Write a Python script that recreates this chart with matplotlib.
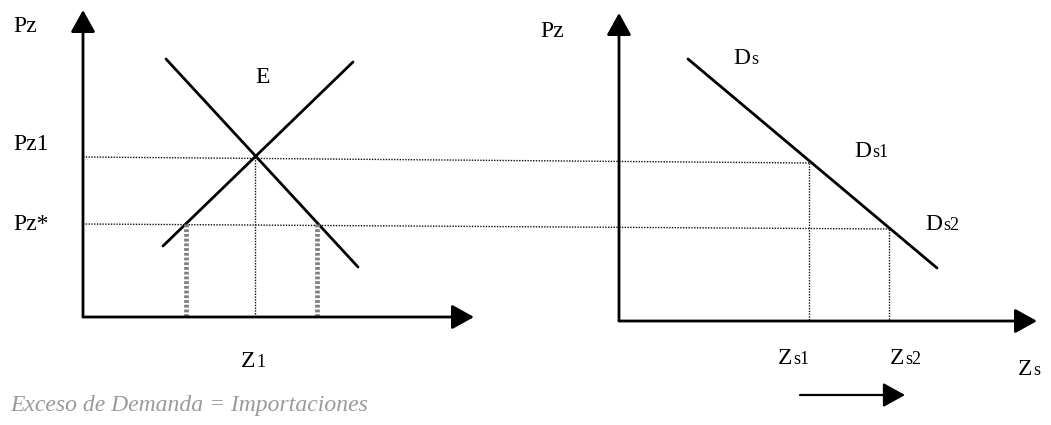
import matplotlib
matplotlib.use("Agg")
import matplotlib.pyplot as plt

# scanned textbook sketch: everything in picture pixel coordinates (y grows downward)
W, H = 1051, 425

# left panel: supply and demand of Z
left_origin = (83, 317)
left_y_tip = 10
left_x_tip = 474
supply_x = [163, 353]
supply_y = [246, 62]
demand_x = [166, 358]
demand_y = [59, 267]
eq_point = (255, 157)          # E
pz_star_left = [(186, 224), (317, 224)]

# right panel: excess demand Ds
right_origin = (619, 321)
right_y_tip = 13
right_x_tip = 1037
ds_x = [688, 937]
ds_y = [59, 268]
ds1_point = (809, 163)
ds2_point = (889, 229)

# price levels carried across both panels
pz1_line_x = [83, 809]
pz1_line_y = [157, 163]
pzstar_line_x = [83, 889]
pzstar_line_y = [224, 229]

# small arrow under Zs1 -> Zs2
shift_arrow_x = [800, 905]
shift_arrow_y = 395

SERIF = "Liberation Serif"

fig = plt.figure(figsize=(W / 100, H / 100), dpi=100)
ax = fig.add_axes([0, 0, 1, 1])
ax.set_xlim(0, W)
ax.set_ylim(H, 0)
ax.axis("off")


def arrow(x0, y0, x1, y1, lw=2.0, hl=1.35, hw=0.75):
    ax.annotate("", xy=(x1, y1), xytext=(x0, y0),
                arrowprops=dict(arrowstyle=f"-|>,head_length={hl},head_width={hw}",
                                mutation_scale=10, lw=lw, color="black",
                                shrinkA=0, shrinkB=0))


# axes with arrow heads
arrow(left_origin[0], left_origin[1], left_origin[0], left_y_tip)
arrow(left_origin[0], left_origin[1], left_x_tip, left_origin[1])
arrow(right_origin[0], right_origin[1], right_origin[0], right_y_tip)
arrow(right_origin[0], right_origin[1], right_x_tip, right_origin[1])
arrow(shift_arrow_x[0], shift_arrow_y, shift_arrow_x[1], shift_arrow_y, lw=1.6)

# curves
ax.plot(supply_x, supply_y, color="black", lw=2.0, solid_capstyle="round")
ax.plot(demand_x, demand_y, color="black", lw=2.0, solid_capstyle="round")
ax.plot(ds_x, ds_y, color="black", lw=2.0, solid_capstyle="round")

# dotted guide lines
dot = dict(color="#111111", lw=1.0, linestyle=(0, (1, 1)))
ax.plot(pz1_line_x, pz1_line_y, **dot)
ax.plot(pzstar_line_x, pzstar_line_y, **dot)
ax.plot([eq_point[0], eq_point[0]], [eq_point[1], left_origin[1]], **dot)
ax.plot([ds1_point[0], ds1_point[0]], [ds1_point[1], right_origin[1]], **dot)
ax.plot([ds2_point[0], ds2_point[0]], [ds2_point[1], right_origin[1]], **dot)

# thick grey dotted verticals marking the excess demand
for px, py in pz_star_left:
    ax.plot([px, px], [py, left_origin[1]], color="#808080", lw=3.4,
            linestyle=(0, (0.6, 0.4)))


def label(x, y, big, small="", fs=17, fs_small=13):
    ax.text(x, y, big, fontsize=fs, family=SERIF, ha="left", va="baseline")
    if small:
        t = ax.text(x, y, big, fontsize=fs, family=SERIF, alpha=0)
        fig.canvas.draw()
        bb = t.get_window_extent()
        x_end = ax.transData.inverted().transform((bb.x1, bb.y0))[0]
        ax.text(x_end + 1, y, small, fontsize=fs_small, family=SERIF,
                ha="left", va="baseline")


label(13, 32, "Pz")
label(13, 150, "Pz1")
label(13, 230, "Pz*")
label(255, 83, "E")
label(241, 367, "Z", "1")

label(540, 37, "Pz")
label(733, 64, "D", "s")
label(854, 157, "D", "s1")
label(925, 230, "D", "s2")
label(778, 364, "Z", "s1")
label(890, 364, "Z", "s2")
label(1018, 375, "Z", "s")

ax.text(10, 411, "Exceso de Demanda = Importaciones", fontsize=17,
        family=SERIF, style="italic", color="#9a9a9a", ha="left", va="baseline")

fig.savefig("out.png", dpi=100)
